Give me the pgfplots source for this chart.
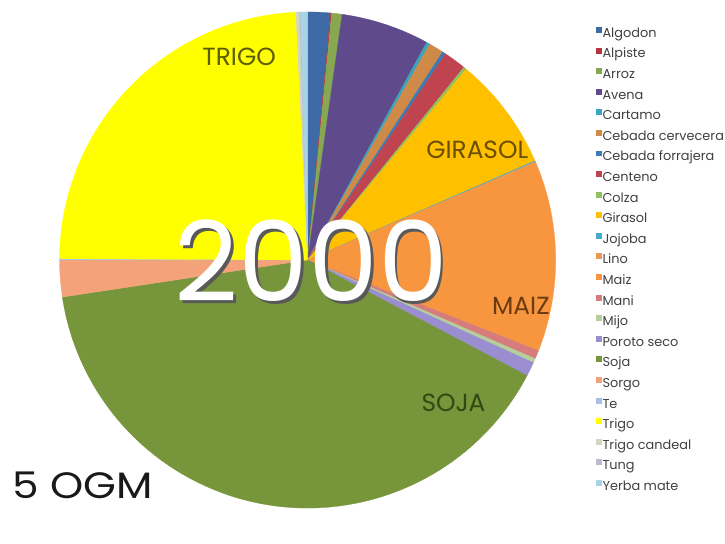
\documentclass[border=0pt]{standalone}
\usepackage{pgfplots}
\usepackage{pgfplotstable}
\pgfplotsset{compat=1.18}
\usepackage{fontspec}
\setmainfont{Poppins}

\definecolor{c0}{HTML}{3F6AA8}  % Algodon
\definecolor{c1}{HTML}{B8343E}  % Alpiste
\definecolor{c2}{HTML}{86A850}  % Arroz
\definecolor{c3}{HTML}{5F4A8B}  % Avena
\definecolor{c4}{HTML}{3AA3BD}  % Cartamo
\definecolor{c5}{HTML}{D08A48}  % Cebada cervecera
\definecolor{c6}{HTML}{3A7CB8}  % Cebada forrajera
\definecolor{c7}{HTML}{BF444F}  % Centeno
\definecolor{c8}{HTML}{92C060}  % Colza
\definecolor{c9}{HTML}{FFC000}  % Girasol
\definecolor{c10}{HTML}{45AACB} % Jojoba
\definecolor{c11}{HTML}{E59A55} % Lino
\definecolor{c12}{HTML}{F7963F} % Maiz
\definecolor{c13}{HTML}{D77C7C} % Mani
\definecolor{c14}{HTML}{B5CF9A} % Mijo
\definecolor{c15}{HTML}{9A8ED0} % Poroto seco
\definecolor{c16}{HTML}{77953A} % Soja
\definecolor{c17}{HTML}{F4A27A} % Sorgo
\definecolor{c18}{HTML}{A9C0E6} % Te
\definecolor{c19}{HTML}{FFFF00} % Trigo
\definecolor{c20}{HTML}{D0D8C0} % Trigo candeal
\definecolor{c21}{HTML}{C0B8D0} % Tung
\definecolor{c22}{HTML}{A8D4E4} % Yerba mate
\definecolor{ltrigo}{HTML}{5C5C00}
\definecolor{lgirasol}{HTML}{6B4F00}
\definecolor{lmaiz}{HTML}{6B3A10}
\definecolor{lsoja}{HTML}{2F4A12}

\pgfplotstableread[col sep=comma]{
crop,value
Algodon,1.47
Alpiste,0.08
Arroz,0.67
Avena,5.75
Cartamo,0.22
Cebada cervecera,0.97
Cebada forrajera,0.22
Centeno,1.47
Colza,0.19
Girasol,7.42
Jojoba,0.06
Lino,0.08
Maiz,12.36
Mani,0.56
Mijo,0.28
Poroto seco,0.92
Soja,39.89
Sorgo,2.39
Te,0.08
Trigo,24.17
Trigo candeal,0.22
Tung,0.08
Yerba mate,0.45
}\datatable

\begin{document}
\begin{tikzpicture}
% cumulative angles (clockwise from 12 o'clock)
\xdef\acc{0}
\foreach \i in {0,...,22}{
  \pgfplotstablegetelem{\i}{value}\of\datatable
  \let\v\pgfplotsretval
  \pgfmathsetmacro\sa{90-3.6*\acc}
  \pgfmathsetmacro\newacc{\acc+\v}
  \pgfmathsetmacro\ea{90-3.6*\newacc}
  \expandafter\xdef\csname sa\i\endcsname{\sa}
  \expandafter\xdef\csname ea\i\endcsname{\ea}
  \xdef\acc{\newacc}
}
\begin{axis}[
  at={(0,0)}, anchor=south west,
  scale only axis, width=725bp, height=515bp,
  xmin=0, xmax=725, ymin=0, ymax=515,
  hide axis, clip=false,
  legend image code/.code={\fill[#1] (0bp,1bp) rectangle (6bp,7bp);},
  legend style={at={(axis cs:600,488)}, anchor=north west, draw=none, fill=none,
    inner sep=0pt, row sep=7.25bp,
    font=\fontsize{13bp}{15bp}\selectfont, text=black!75,
    nodes={inner ysep=0pt, inner xsep=1bp, text height=10bp, text depth=3bp}},
  legend cell align=left,
  legend entries={Algodon,Alpiste,Arroz,Avena,Cartamo,Cebada cervecera,Cebada forrajera,Centeno,Colza,Girasol,Jojoba,Lino,Maiz,Mani,Mijo,Poroto seco,Soja,Sorgo,Te,Trigo,Trigo candeal,Tung,Yerba mate},
]
\path (axis cs:0,0) rectangle (axis cs:725,515);
\pgfplotsinvokeforeach{0,...,22}{
  \addlegendimage{fill=c#1, draw=none}
}
\pgfplotsinvokeforeach{0,...,22}{
  \fill[c#1, draw=c#1, line width=0.3pt] (axis cs:310,253) -- ++(\csname sa#1\endcsname:250bp)
     arc[start angle=\csname sa#1\endcsname, end angle=\csname ea#1\endcsname, radius=250bp] -- cycle;
}
\node[text=ltrigo, font=\fontsize{25bp}{25bp}\selectfont] at (axis cs:241,458) {TRIGO};
\node[text=lgirasol, font=\fontsize{25bp}{25bp}\selectfont] at (axis cs:481,364) {GIRASOL};
\node[text=lmaiz, font=\fontsize{25bp}{25bp}\selectfont] at (axis cs:525,207) {MAIZ};
\node[text=lsoja, font=\fontsize{25bp}{25bp}\selectfont] at (axis cs:457,109) {SOJA};
\node[text=black!65, font=\fontsize{112bp}{112bp}\selectfont] at (axis cs:316.5,249.5) {2000};
\node[text=white, font=\fontsize{112bp}{112bp}\selectfont] at (axis cs:314,252) {2000};
\node[anchor=west, text=black!90, xscale=1.15, font=\fontsize{37bp}{37bp}\selectfont] at (axis cs:9,26) {5 OGM};
\end{axis}
\end{tikzpicture}
\end{document}
